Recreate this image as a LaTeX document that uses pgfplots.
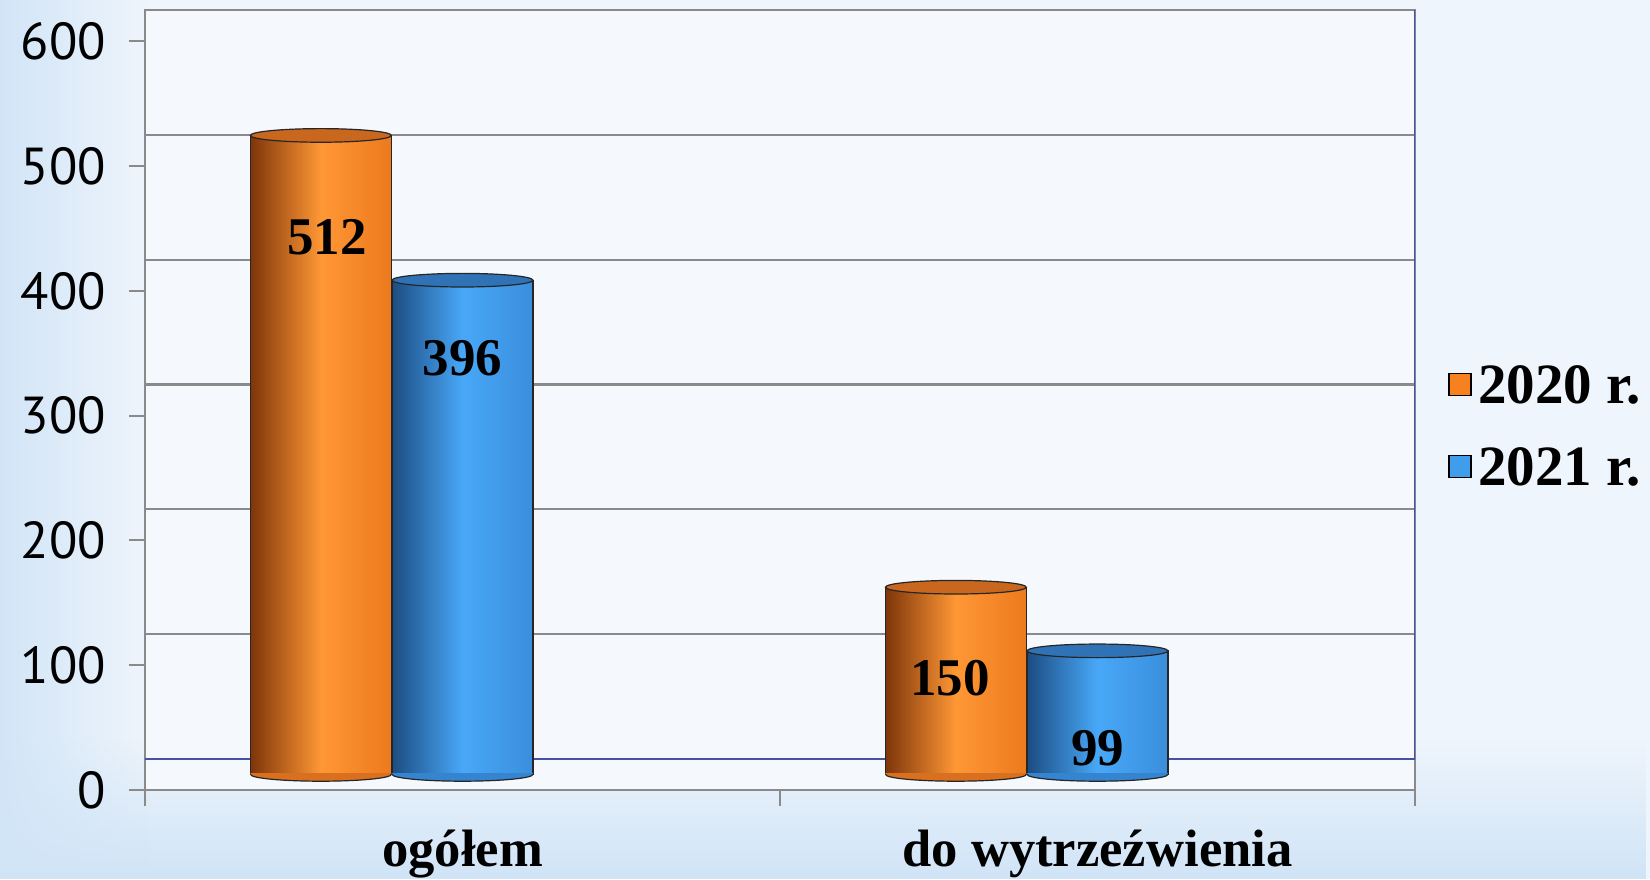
\documentclass[border=0pt]{standalone}
\usepackage{pgfplots}
\pgfplotsset{compat=1.18}
\usetikzlibrary{fadings}
\usepackage{fontspec}
\setmainfont{Liberation Serif}
\newfontfamily\tickfont{PT Sans}
\definecolor{gridgray}{HTML}{8A8A8A}
\definecolor{floorblue}{HTML}{4452A8}
\definecolor{oDark}{HTML}{7E350A}
\definecolor{oMid}{HTML}{FF9735}
\definecolor{oRight}{HTML}{EC7A1E}
\definecolor{oCap}{HTML}{C9671F}
\definecolor{oBot}{HTML}{D8701F}
\definecolor{oLeg}{HTML}{F7811F}
\definecolor{bDark}{HTML}{1C4C82}
\definecolor{bMid}{HTML}{48A8F8}
\definecolor{bRight}{HTML}{3A8EDC}
\definecolor{bCap}{HTML}{2F72B6}
\definecolor{bBot}{HTML}{3584D0}
\definecolor{bLeg}{HTML}{3F9DEC}
\definecolor{bgBase}{HTML}{EFF5FC}
\definecolor{bgEdge}{HTML}{D2E5F7}
\definecolor{bgBand}{HTML}{D0E4F7}
\definecolor{bgIn}{HTML}{F5F9FE}
\pgfdeclareplotmark{captop}{%
  \pgfpathellipse{\pgfpointorigin}{\pgfqpoint{35.2pt}{0pt}}{\pgfqpoint{0pt}{3.4pt}}%
  \pgfusepathqfillstroke}
\pgfdeclareplotmark{capbottom}{%
  \pgfpathmoveto{\pgfqpoint{-35.2pt}{0.6pt}}%
  \pgfpathlineto{\pgfqpoint{-35.2pt}{0pt}}%
  \pgfpatharc{180}{360}{35.2pt and 3.4pt}%
  \pgfpathlineto{\pgfqpoint{35.2pt}{0.6pt}}%
  \pgfpathclose
  \pgfusepathqfill
  \pgfpathmoveto{\pgfqpoint{-35.2pt}{0pt}}%
  \pgfpatharc{180}{360}{35.2pt and 3.4pt}%
  \pgfusepathqstroke}
\newcommand\valfont{\bfseries\fontsize{26.5}{26.5}\selectfont}
\newcommand\catfont{\bfseries\fontsize{26.3}{26.3}\selectfont}
\begin{document}
\begin{tikzpicture}
\useasboundingbox (0,0) rectangle (825pt,439.5pt);
\fill[bgBase] (0,0) rectangle (825pt,439.5pt);
\fill[bgBand, path fading=north] (0,0) rectangle (825pt,70pt);
\fill[bgEdge, path fading=east] (0,0) rectangle (75pt,439.5pt);
\begin{axis}[
  at={(72.5pt,44.5pt)}, anchor=south west,
  scale only axis, width=635pt, height=390pt,
  xmin=-0.5, xmax=1.5, ymin=0, ymax=625,
  axis background/.style={fill=bgIn},
  axis line style={draw=gridgray, line width=1pt},
  tick align=outside,
  major tick length=8pt,
  tick style={draw=gridgray, line width=1pt},
  xtick pos=bottom, ytick pos=left,
  ytick={0,100,...,600},
  yticklabel style={font=\tickfont\fontsize{26}{26}\selectfont, xshift=-8pt},
  /pgf/number format/assume math mode=true,
  xtick={-0.5,0.5,1.5}, xticklabels={},
  extra x ticks={0,1},
  extra x tick labels={ogółem, do wytrzeźwienia},
  extra x tick style={major tick length=0pt,
    xticklabel style={font=\catfont, anchor=base, yshift=-38.3pt}},
  extra y ticks={125,225,325,425,525},
  extra y tick labels={},
  extra y tick style={major tick length=0pt, grid=major,
    major grid style={draw=gridgray, line width=1.1pt}},
  legend style={at={(1.026,0.467)}, anchor=west, draw=none, fill=none,
    inner sep=0pt, font=\bfseries\fontsize{28.5}{28.5}\selectfont, row sep=19pt,
    nodes={inner sep=1.5pt, text height=19pt, text depth=0pt}},
  legend cell align=left,
  legend image code/.code={\draw[#1, draw=black, line width=0.7pt] (0pt,-5.5pt) rectangle (11pt,5.5pt); \path[draw=none, fill=none] (13pt,0pt);},
]
\draw[floorblue, line width=1.2pt] (axis cs:-0.5,25) -- (axis cs:1.5,25) -- (axis cs:1.5,625);
% bars
\addplot[ybar, bar width=0.222, bar shift=0, x filter/.expression={x-0.223},
  draw=black!85, line width=0.6pt,
  left color=oDark, right color=oRight, middle color=oMid, yshift=7.8pt,
  nodes near coords, every node near coord/.style={anchor=center, xshift=3pt, yshift=-50.7pt, font=\valfont, text=black},
  forget plot] coordinates {(0,512)};
\addplot[ybar, bar width=0.222, bar shift=0, draw=black!85, line width=0.6pt,
  left color=bDark, right color=bRight, middle color=bMid, yshift=7.8pt,
  nodes near coords, every node near coord/.style={anchor=center, yshift=-39.1pt, font=\valfont, text=black},
  forget plot] coordinates {(0,396)};
\addplot[ybar, bar width=0.222, bar shift=0, x filter/.expression={x-0.223},
  draw=black!85, line width=0.6pt,
  left color=oDark, right color=oRight, middle color=oMid, yshift=7.8pt,
  nodes near coords, every node near coord/.style={anchor=center, xshift=-3pt, yshift=-45.4pt, font=\valfont, text=black},
  forget plot] coordinates {(1,150)};
\addplot[ybar, bar width=0.222, bar shift=0, draw=black!85, line width=0.6pt,
  left color=bDark, right color=bRight, middle color=bMid, yshift=7.8pt,
  nodes near coords, every node near coord/.style={anchor=center, yshift=-48.6pt, font=\valfont, text=black},
  forget plot] coordinates {(1,99)};
% cylinder bottoms
\addplot[only marks, mark=capbottom, mark options={fill=oBot, draw=black!85, line width=0.6pt},
  x filter/.expression={x-0.223}, yshift=7.8pt, forget plot] coordinates {(0,0) (1,0)};
\addplot[only marks, mark=capbottom, mark options={fill=bBot, draw=black!85, line width=0.6pt},
  yshift=7.8pt, forget plot] coordinates {(0,0) (1,0)};
% cylinder tops
\addplot[only marks, mark=captop, mark options={fill=oCap, draw=black!85, line width=0.6pt},
  x filter/.expression={x-0.223}, yshift=7.8pt, forget plot] coordinates {(0,512) (1,150)};
\addplot[only marks, mark=captop, mark options={fill=bCap, draw=black!85, line width=0.6pt},
  yshift=7.8pt, forget plot] coordinates {(0,396) (1,99)};
\addlegendimage{fill=oLeg}
\addlegendentry{2020 r.}
\addlegendimage{fill=bLeg}
\addlegendentry{2021 r.}
\end{axis}
\end{tikzpicture}
\end{document}
